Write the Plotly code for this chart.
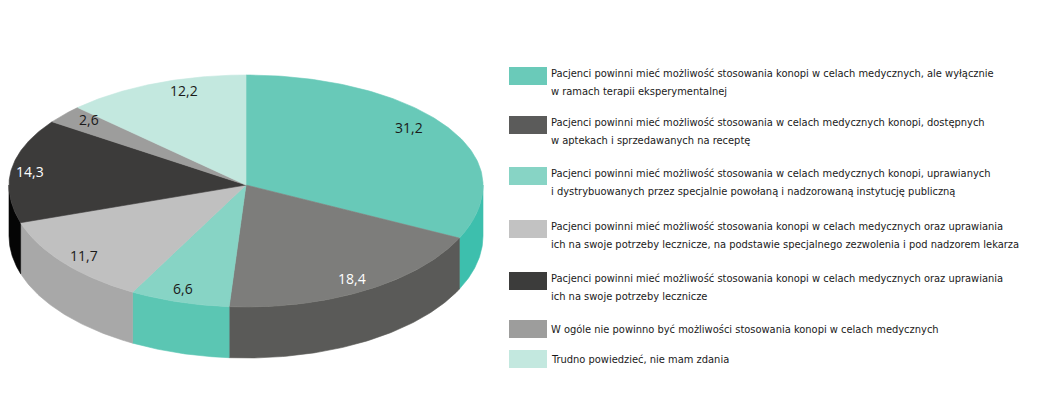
import numpy as np
import plotly.graph_objects as go

labels = [
    "Pacjenci powinni mieć możliwość stosowania konopi w celach medycznych, ale wyłącznie<br>w ramach terapii eksperymentalnej",
    "Pacjenci powinni mieć możliwość stosowania w celach medycznych konopi, dostępnych<br>w aptekach i sprzedawanych na receptę",
    "Pacjenci powinni mieć możliwość stosowania w celach medycznych konopi, uprawianych<br>i dystrybuowanych przez specjalnie powołaną i nadzorowaną instytucję publiczną",
    "Pacjenci powinni mieć możliwość stosowania konopi w celach medycznych oraz uprawiania<br>ich na swoje potrzeby lecznicze, na podstawie specjalnego zezwolenia i pod nadzorem lekarza",
    "Pacjenci powinni mieć możliwość stosowania konopi w celach medycznych oraz uprawiania<br>ich na swoje potrzeby lecznicze",
    "W ogóle nie powinno być możliwości stosowania konopi w celach medycznych",
    "Trudno powiedzieć, nie mam zdania",
]
values = [31.2, 18.4, 6.6, 11.7, 14.3, 2.6, 12.2]

top_colors = ["#68c9b8", "#7d7d7b", "#87d4c5", "#c0c0c0", "#3c3b3a", "#9d9d9c", "#c3e8df"]
side_colors = ["#3dbfad", "#5a5a58", "#5bc6b3", "#a8a8a8", "#050505", "#808080", "#a0d0c5"]
legend_colors = ["#6acab9", "#5b5b5a", "#87d4c5", "#c2c2c2", "#3c3c3b", "#9d9d9c", "#c3e8df"]
label_font_colors = ["#1a1a1a", "#ffffff", "#1a1a1a", "#1a1a1a", "#ffffff", "#1a1a1a", "#1a1a1a"]
label_fx = [0.81, 0.89, 0.95, 0.89, 0.92, 0.865, 0.68]
label_fy = [0.99, 0.89, 0.88, 0.90, 0.85, 0.93, 0.93]

# geometry (pixel space)
CX, CY = 246, 185
RX, RY_T, RY_B = 237, 110, 122
DEPTH = 51


def pt(t_deg, fx=1.0, fy=1.0, dy=0.0):
    t = np.radians(t_deg)
    s = np.sin(t)
    ry = RY_B if s > 0 else RY_T
    return CX + RX * fx * np.cos(t), CY + ry * fy * s + dy


fig = go.Figure()
total = sum(values)
cum = np.cumsum([0] + values)
t_start = [-90 + 360 * c / total for c in cum[:-1]]
t_end = [-90 + 360 * c / total for c in cum[1:]]

# sides
for i in range(len(values)):
    a, b = max(t_start[i], 0), min(t_end[i], 180)
    if b <= a:
        continue
    ts = np.linspace(a, b, 80)
    top = [pt(t) for t in ts]
    bot = [pt(t, dy=DEPTH) for t in ts[::-1]]
    poly = top + bot
    xs = [p[0] for p in poly] + [poly[0][0]]
    ys = [p[1] for p in poly] + [poly[0][1]]
    fig.add_trace(go.Scatter(x=xs, y=ys, mode="lines", fill="toself",
                             fillcolor=side_colors[i],
                             line=dict(color=side_colors[i], width=0.6),
                             hoverinfo="skip", showlegend=False))

# tops
for i in range(len(values)):
    ts = np.linspace(t_start[i], t_end[i], 120)
    arc = [pt(t) for t in ts]
    xs = [CX] + [p[0] for p in arc] + [CX]
    ys = [CY] + [p[1] for p in arc] + [CY]
    fig.add_trace(go.Scatter(x=xs, y=ys, mode="lines", fill="toself",
                             fillcolor=top_colors[i],
                             line=dict(color=top_colors[i], width=0.6),
                             name=labels[i].replace("<br>", " "),
                             hoverinfo="name", showlegend=False))

# value labels
for i, v in enumerate(values):
    mid = (t_start[i] + t_end[i]) / 2
    x, y = pt(mid, fx=label_fx[i], fy=label_fy[i])
    fig.add_annotation(x=x, y=y, text=f"{v:.1f}".replace(".", ","), showarrow=False,
                       font=dict(family="Open Sans", size=14, color=label_font_colors[i]),
                       xanchor="center", yanchor="middle")

# legend
LX0, LX1 = 509, 547
TX = 549
legend_y = [76, 125, 176, 229, 281, 329, 359]
for i, lab in enumerate(labels):
    yc = legend_y[i]
    fig.add_shape(type="rect", x0=LX0, x1=LX1, y0=yc - 9, y1=yc + 9,
                  xref="x", yref="y", line=dict(width=0), fillcolor=legend_colors[i])
    lines = lab.split("<br>")
    for j, line in enumerate(lines):
        y = yc - 3 + 18 * j if len(lines) > 1 else yc
        fig.add_annotation(x=TX, y=y, text=line,
                           showarrow=False, xanchor="left", yanchor="middle",
                           font=dict(family="DejaVu Sans Condensed", size=11, color="#1a1a1a"))

fig.update_layout(
    width=1043, height=399,
    margin=dict(l=0, r=0, t=0, b=0),
    paper_bgcolor="white", plot_bgcolor="white",
    xaxis=dict(range=[0, 1043], visible=False, fixedrange=True),
    yaxis=dict(range=[399, 0], visible=False, fixedrange=True),
    showlegend=False,
)

fig.write_html("out.html")
